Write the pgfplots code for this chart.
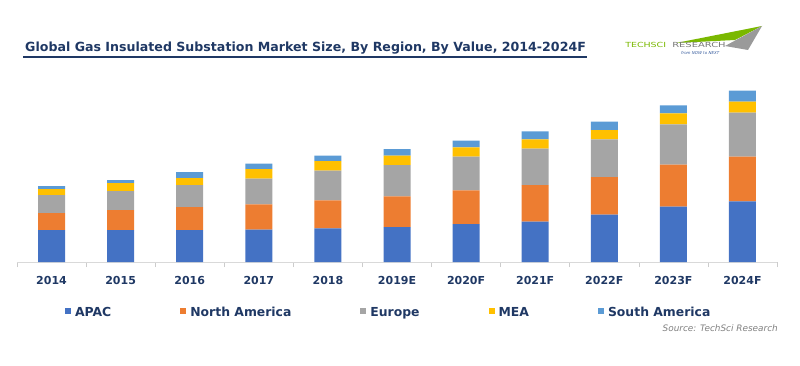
\documentclass[border=0pt]{standalone}
\usepackage{fontspec}
\setmainfont{DejaVu Sans}
\usepackage{pgfplots}
\pgfplotsset{compat=1.18}
\usepackage{pgfplotstable}
\definecolor{navy}{RGB}{31,56,100}
\definecolor{capac}{RGB}{68,114,196}
\definecolor{cna}{RGB}{237,125,49}
\definecolor{ceu}{RGB}{165,165,165}
\definecolor{cmea}{RGB}{255,192,0}
\definecolor{csa}{RGB}{91,155,213}
\definecolor{logogreen}{RGB}{122,184,0}
\definecolor{logogray}{RGB}{120,120,120}
\pgfplotsset{sqlegend/.style={legend image code/.code={\fill[##1,draw=none] (0pt,-0.5pt) rectangle (6pt,5.5pt);}}}
\pgfplotstableread{
x apac na eu mea sa
0 32 17 18 6 3
1 32 20 19 8 3
2 32 23 22 7 6
3 32.3 25.4 25.6 9.7 5.3
4 33.7 28 29.6 9.7 5.3
5 35 30.7 31.3 9.3 6.7
6 38 33.7 33.6 9.4 6.6
7 40.3 36.7 36.3 9.4 8
8 47.3 37.7 37.7 9.3 8.3
9 55.3 42 40.4 11 8
10 60.7 44.6 44 11 11
}\datatable
\begin{document}
\begin{tikzpicture}
\path[use as bounding box] (0,0) rectangle (800pt,365pt);
% title
\node[anchor=base west, inner sep=0pt, text=navy, font=\bfseries\fontsize{12.6}{15}\selectfont] (title) at (25pt,313pt) {Global Gas Insulated Substation Market Size, By Region, By Value, 2014-2024F};
\draw[navy, line width=1.2pt] (23pt,308pt) -- (587pt,308pt);
% logo
\fill[logogreen] (676pt,322pt) -- (762pt,339pt) -- (735pt,325pt) -- cycle;
\fill[logogray!75] (725pt,319pt) -- (762pt,339pt) -- (748pt,315pt) -- cycle;
\node[anchor=west, inner sep=0pt, text=logogreen, font=\fontsize{7}{8}\selectfont, xscale=1.35] at (625pt,320pt) {TECHSCI};
\node[anchor=west, inner sep=0pt, text=logogray, font=\fontsize{7}{8}\selectfont, xscale=1.42] at (672pt,320pt) {RESEARCH};
\node[anchor=west, inner sep=0pt, text=capac!80!black, font=\itshape\fontsize{4}{5}\selectfont] at (681pt,311.5pt) {from NOW to NEXT};
% source
\node[anchor=east, inner sep=0pt, text=black!50, font=\itshape\fontsize{8.9}{10}\selectfont] at (778pt,37pt) {Source: TechSci Research};
\begin{axis}[
  at={(17pt,103pt)}, anchor=south west,
  scale only axis, width=760pt, height=177pt,
  ybar stacked, bar width=27pt,
  xmin=-0.5, xmax=10.5, ymin=0, ymax=177,
  enlargelimits=false, clip=false,
  axis y line=none, axis x line*=bottom,
  x axis line style={draw=black!15, line width=0.8pt, -},
  xtick={0,...,10},
  xticklabels={2014,2015,2016,2017,2018,2019E,2020F,2021F,2022F,2023F,2024F},
  minor xtick={-0.5,0.5,...,10.5},
  major tick length=0pt, minor tick length=5pt, tick align=outside,
  minor tick style={draw=black!20, line width=0.6pt},
  xticklabel style={text=navy, font=\bfseries\fontsize{11}{13}\selectfont, yshift=-11pt},
  legend columns=5,
  legend style={at={(axis description cs:0.063,-0.291)}, anchor=west, draw=none, fill=none, inner sep=0pt,
    font=\bfseries\fontsize{12.4}{14}\selectfont, text=navy,
    nodes={inner xsep=0pt, inner ysep=1pt, text height=9pt, text depth=2.6pt},
    /tikz/every odd column/.append style={column sep=4pt},
    /tikz/every even column/.append style={column sep=69pt}},
]
\addplot+[fill=capac, draw=none, sqlegend] table[x=x,y=apac] {\datatable};
\addplot+[fill=cna, draw=none, sqlegend] table[x=x,y=na] {\datatable};
\addplot+[fill=ceu, draw=none, sqlegend] table[x=x,y=eu] {\datatable};
\addplot+[fill=cmea, draw=none, sqlegend] table[x=x,y=mea] {\datatable};
\addplot+[fill=csa, draw=none, sqlegend] table[x=x,y=sa] {\datatable};
\legend{APAC,North America,Europe,MEA,South America}
\end{axis}
\end{tikzpicture}
\end{document}
